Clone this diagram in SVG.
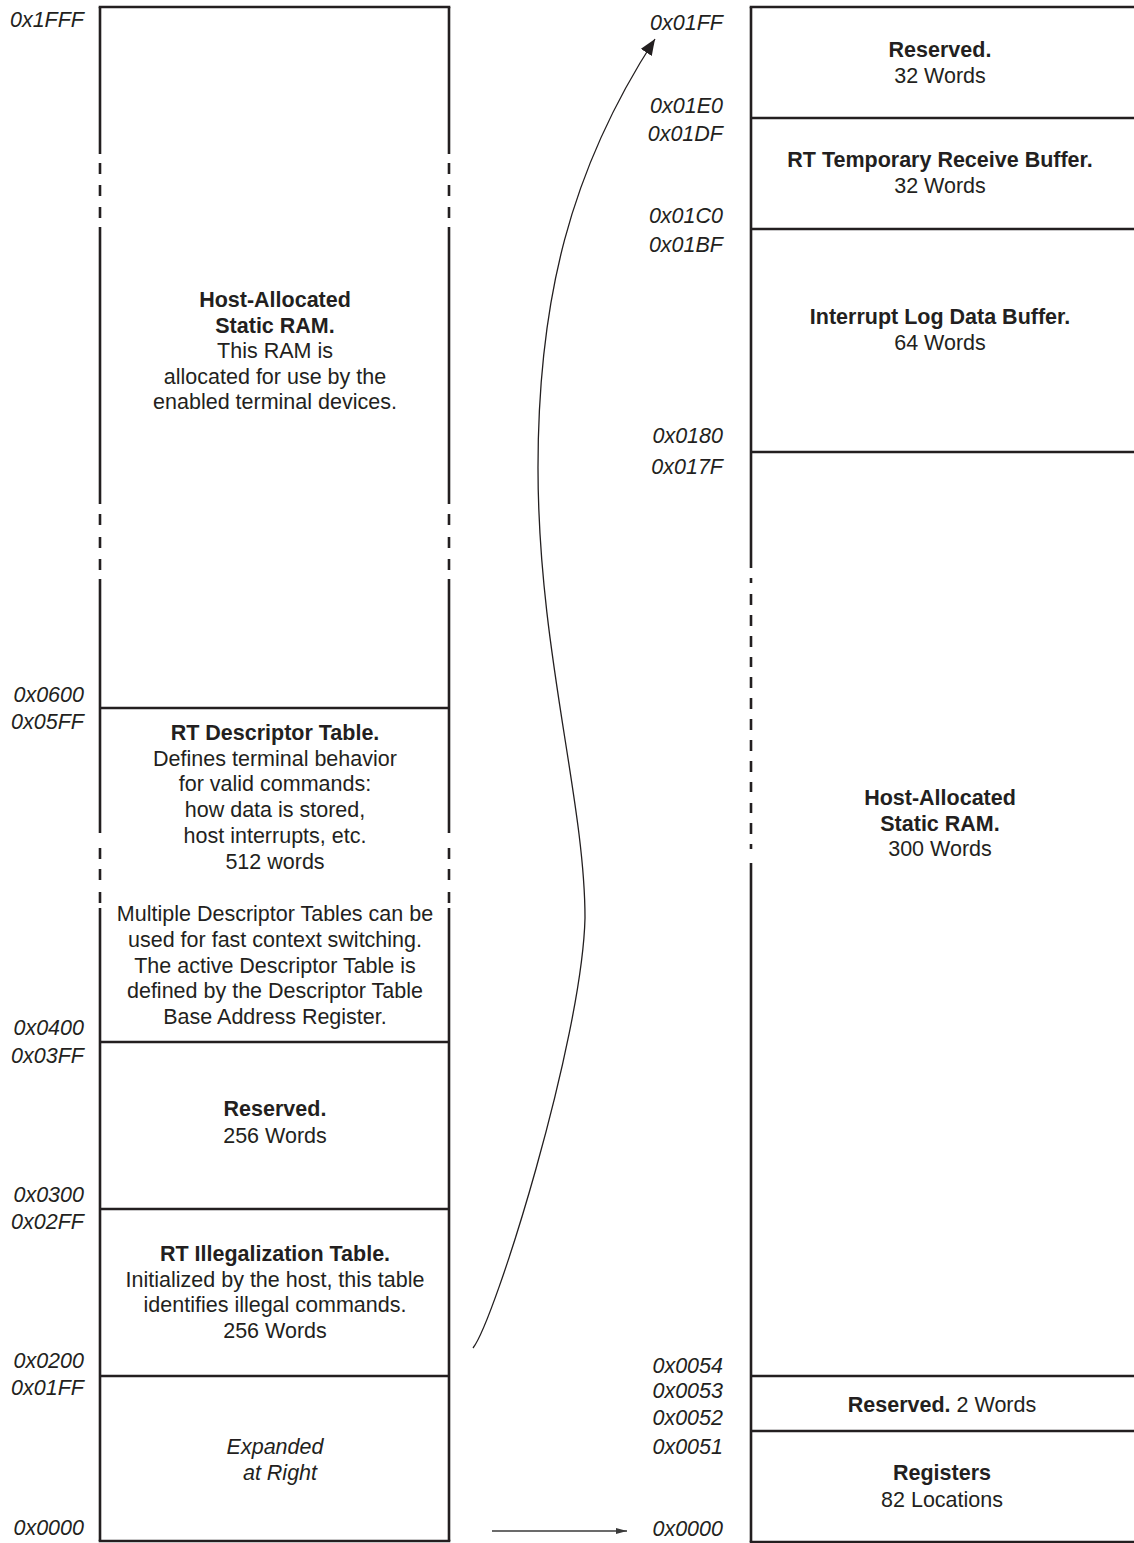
<svg xmlns="http://www.w3.org/2000/svg" width="1134" height="1543" viewBox="0 0 1134 1543">
<style>
  .edge { fill: none; stroke: #231f20; stroke-width: 2.6; stroke-linecap: butt; }
  .t { font-family: "Liberation Sans", Arial, Helvetica, sans-serif; font-size: 21.5px; fill: #231f20; text-anchor: middle; }
  .b { font-weight: bold; }
  .addr { font-family: "Liberation Sans", Arial, Helvetica, sans-serif; font-size: 21.5px; font-style: italic; fill: #231f20; text-anchor: end; }
  .conn { fill: none; stroke: #231f20; stroke-width: 1.3; }
  .conn2 { fill: none; stroke: #3a3a3a; stroke-width: 1.6; }
</style>
<defs>
  <marker id="bigArrow" markerUnits="userSpaceOnUse" viewBox="0 0 16 13" markerWidth="16" markerHeight="13" refX="16" refY="6.5" orient="auto">
    <path d="M0,0 L16,6.5 L0,13 z" fill="#231f20"/>
  </marker>
  <marker id="smallArrow" markerUnits="userSpaceOnUse" viewBox="0 0 11 6" markerWidth="11" markerHeight="6" refX="11" refY="3" orient="auto">
    <path d="M0,0 L11,3 L0,6 z" fill="#3a3a3a"/>
  </marker>
</defs>
<rect x="0" y="0" width="1134" height="1543" fill="#ffffff"/>

<!-- Left column frame -->
<g id="left-column-frame">
  <path class="edge" d="M98.7,7 H450.3 M98.7,1541 H450.3"/>
  <path class="edge" d="M100,7 V154 M100,163 V174 M100,185 V196 M100,207 V218 M100,227 V504 M100,514 V525 M100,537 V548 M100,559 V570 M100,579 V833 M100,848 V859 M100,869 V880 M100,892 V903 M100,908 V1541"/>
  <path class="edge" d="M449,7 V154 M449,163 V174 M449,185 V196 M449,207 V218 M449,227 V504 M449,514 V525 M449,537 V548 M449,559 V570 M449,579 V833 M449,848 V859 M449,869 V880 M449,892 V903 M449,908 V1541"/>
</g>

<!-- Right column frame -->
<g id="right-column-frame">
  <path class="edge" d="M749.7,7 H1136 M749.7,1542 H1136"/>
  <path class="edge" d="M751,7 V568 M751,578 V583 M751,594 V605 M751,615 V626 M751,636 V647 M751,657 V667 M751,677 V688 M751,698 V709 M751,719 V730 M751,740 V751 M751,761 V772 M751,782 V792 M751,803 V813 M751,823 V834 M751,844 V849 M751,863 V1542"/>
</g>

<!-- Left column nodes -->
<g id="left-host-ram">
  <text class="t b" x="275" y="307">Host-Allocated</text>
  <text class="t b" x="275" y="332.5">Static RAM.</text>
  <text class="t" x="275" y="358">This RAM is</text>
  <text class="t" x="275" y="383.5">allocated for use by the</text>
  <text class="t" x="275" y="409">enabled terminal devices.</text>
</g>

<g id="left-descriptor-table">
  <path class="edge" d="M100,708 H449"/>
  <text class="t b" x="275" y="740">RT Descriptor Table.</text>
  <text class="t" x="275" y="765.5">Defines terminal behavior</text>
  <text class="t" x="275" y="791">for valid commands:</text>
  <text class="t" x="275" y="817">how data is stored,</text>
  <text class="t" x="275" y="843">host interrupts, etc.</text>
  <text class="t" x="275" y="869">512 words</text>
  <text class="t" x="275" y="921">Multiple Descriptor Tables can be</text>
  <text class="t" x="275" y="947">used for fast context switching.</text>
  <text class="t" x="275" y="972.5">The active Descriptor Table is</text>
  <text class="t" x="275" y="998">defined by the Descriptor Table</text>
  <text class="t" x="275" y="1023.5">Base Address Register.</text>
</g>

<g id="left-reserved">
  <path class="edge" d="M100,1042 H449"/>
  <text class="t b" x="275" y="1116">Reserved.</text>
  <text class="t" x="275" y="1142.5">256 Words</text>
</g>

<g id="left-illegalization-table">
  <path class="edge" d="M100,1209 H449"/>
  <text class="t b" x="275" y="1261">RT Illegalization Table.</text>
  <text class="t" x="275" y="1286.5">Initialized by the host, this table</text>
  <text class="t" x="275" y="1312">identifies illegal commands.</text>
  <text class="t" x="275" y="1338">256 Words</text>
</g>

<g id="left-expanded">
  <path class="edge" d="M100,1376 H449"/>
  <text class="t" x="275" y="1454" font-style="italic">Expanded</text>
  <text class="t" x="280" y="1479.5" font-style="italic">at Right</text>
</g>

<!-- Left address labels -->
<g id="left-addresses">
  <text class="addr" x="84" y="27">0x1FFF</text>
  <text class="addr" x="84" y="702">0x0600</text>
  <text class="addr" x="84" y="729">0x05FF</text>
  <text class="addr" x="84" y="1035">0x0400</text>
  <text class="addr" x="84" y="1063">0x03FF</text>
  <text class="addr" x="84" y="1202">0x0300</text>
  <text class="addr" x="84" y="1229">0x02FF</text>
  <text class="addr" x="84" y="1368">0x0200</text>
  <text class="addr" x="84" y="1395">0x01FF</text>
  <text class="addr" x="84" y="1535">0x0000</text>
</g>

<!-- Right column nodes -->
<g id="right-reserved-top">
  <text class="t b" x="940" y="57">Reserved.</text>
  <text class="t" x="940" y="83">32 Words</text>
</g>

<g id="right-temp-receive-buffer">
  <path class="edge" d="M751,118 H1136"/>
  <text class="t b" x="940" y="167">RT Temporary Receive Buffer.</text>
  <text class="t" x="940" y="193">32 Words</text>
</g>

<g id="right-interrupt-log">
  <path class="edge" d="M751,229 H1136"/>
  <text class="t b" x="940" y="324">Interrupt Log Data Buffer.</text>
  <text class="t" x="940" y="350">64 Words</text>
</g>

<g id="right-host-ram">
  <path class="edge" d="M751,452 H1136"/>
  <text class="t b" x="940" y="805">Host-Allocated</text>
  <text class="t b" x="940" y="830.5">Static RAM.</text>
  <text class="t" x="940" y="856">300 Words</text>
</g>

<g id="right-reserved-2">
  <path class="edge" d="M751,1376 H1136"/>
  <text class="t" x="942" y="1412"><tspan class="b">Reserved.</tspan> 2 Words</text>
</g>

<g id="right-registers">
  <path class="edge" d="M751,1431 H1136"/>
  <text class="t b" x="942" y="1480">Registers</text>
  <text class="t" x="942" y="1507">82 Locations</text>
</g>

<!-- Right address labels -->
<g id="right-addresses">
  <text class="addr" x="723" y="30">0x01FF</text>
  <text class="addr" x="723" y="113">0x01E0</text>
  <text class="addr" x="723" y="141">0x01DF</text>
  <text class="addr" x="723" y="223">0x01C0</text>
  <text class="addr" x="723" y="252">0x01BF</text>
  <text class="addr" x="723" y="443">0x0180</text>
  <text class="addr" x="723" y="474">0x017F</text>
  <text class="addr" x="723" y="1373">0x0054</text>
  <text class="addr" x="723" y="1398">0x0053</text>
  <text class="addr" x="723" y="1425">0x0052</text>
  <text class="addr" x="723" y="1454">0x0051</text>
  <text class="addr" x="723" y="1536">0x0000</text>
</g>

<!-- Connectors -->
<g id="connectors">
  <path class="conn" d="M473,1348 C495,1320 582,1040 585,918 C585,800 538,650 538,468 C538,300 570,170 655,39" marker-end="url(#bigArrow)"/>
  <path class="conn2" d="M492,1531 H627" marker-end="url(#smallArrow)"/>
</g>
</svg>
